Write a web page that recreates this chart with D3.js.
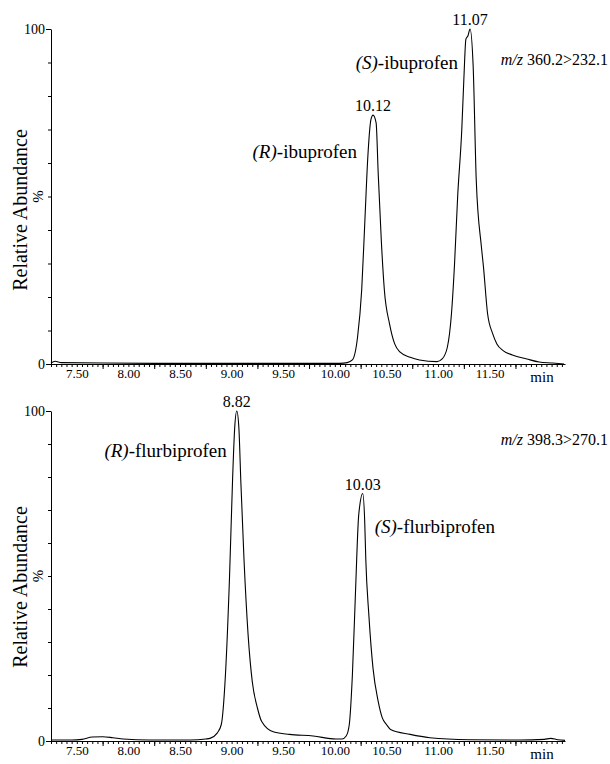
<!DOCTYPE html>
<html>
<head>
<meta charset="utf-8">
<script src="https://cdn.jsdelivr.net/npm/d3@7"></script>
<style>
  body { margin: 0; background: #fff; }
  svg { display: block; }
</style>
</head>
<body>
<div id="chart"></div>
<script>
var serif = "Liberation Serif";

// retention time ticks (labels are drawn half a step left of their tick, as in the original figure)
var majorTicks = [7.5, 8.0, 8.5, 9.0, 9.5, 10.0, 10.5, 11.0, 11.5];
var tickLabels = ["7.50", "8.00", "8.50", "9.00", "9.50", "10.00", "10.50", "11.00", "11.50"];

// ibuprofen trace, m/z 360.2>232.1
var ibuTime = [7.00, 7.04, 7.10, 7.50, 8.00, 8.50, 9.00, 9.50, 9.80, 9.87,
  9.92, 9.97, 10.01, 10.04, 10.07, 10.10, 10.12, 10.15, 10.17, 10.20, 10.23, 10.28, 10.33, 10.38,
  10.48, 10.57, 10.74, 10.79, 10.84, 10.88, 10.91, 10.94, 10.98, 11.00, 11.02, 11.04, 11.06,
  11.09, 11.12, 11.17, 11.19, 11.23, 11.28, 11.32, 11.38, 11.47, 11.61, 11.73, 11.86, 11.97];
var ibuAbund = [0.3, 0.8, 0.4, 0.3, 0.2, 0.2, 0.2, 0.2, 0.2, 0.4,
  1.2, 8, 22, 42, 62, 73, 74.3, 72, 57, 37, 22, 12, 6, 3.6,
  2, 1.2, 0.7, 1.5, 5, 15, 30, 50, 70, 85, 97, 98, 100,
  89, 55, 35, 29, 15, 9, 6, 4, 2.7, 1.5, 0.6, 0.3, 0];

// flurbiprofen trace, m/z 398.3>270.1
var fluTime = [7.00, 7.20, 7.30, 7.40, 7.50, 7.60, 7.70, 7.95, 8.35, 8.50,
  8.54, 8.61, 8.65, 8.69, 8.73, 8.76, 8.78, 8.80, 8.82, 8.84, 8.87, 8.91, 8.95, 9.00, 9.04,
  9.16, 9.31, 9.54, 9.76, 9.82, 9.86, 9.89, 9.92, 9.95, 9.98, 9.99, 10.02, 10.04, 10.05,
  10.08, 10.12, 10.17, 10.21, 10.25, 10.29, 10.48, 10.67, 11.05, 11.54, 11.78, 11.84, 11.91, 11.98];
var fluAbund = [0.3, 0.3, 0.5, 1.2, 1.3, 1.0, 0.6, 0.3, 0.3, 0.6,
  0.8, 2.4, 5, 20, 50, 80, 95, 100, 95, 78, 55, 32, 18, 10, 6,
  2.7, 2, 1.5, 0.6, 0.6, 1.5, 5, 20, 45, 68, 71, 75, 66, 55,
  38, 22, 12, 7, 5, 3.5, 2, 1, 0.4, 0.3, 0.5, 0.8, 0.4, 0.2];

var ibuPeaks = [{t: 10.12, a: 74.3, label: "10.12"}, {t: 11.06, a: 100, label: "11.07"}];
var fluPeaks = [{t: 8.80, a: 100, label: "8.82"}, {t: 10.02, a: 75, label: "10.03"}];

var width = 610, height = 764;
var svg = d3.select("#chart").append("svg")
  .attr("width", width)
  .attr("height", height)
  .attr("font-family", serif);

var x = d3.scaleLinear().domain([7.0, 11.98]).range([51, 565]);
var labelShift = x(7.25) - x(7.5);

var panels = [
  {time: ibuTime, abund: ibuAbund, peaks: ibuPeaks, y0: 364, y100: 29,
   mz: "360.2>232.1", mzY: 65,
   names: [
     {stereo: "(R)", rest: "-ibuprofen", t: 10.12, dx: -16, a: 61.5, anchor: "end"},
     {stereo: "(S)", rest: "-ibuprofen", t: 11.06, dx: -12, a: 88, anchor: "end"}
   ]},
  {time: fluTime, abund: fluAbund, peaks: fluPeaks, y0: 741, y100: 411,
   mz: "398.3>270.1", mzY: 445,
   names: [
     {stereo: "(R)", rest: "-flurbiprofen", t: 8.80, dx: -10, a: 86, anchor: "end"},
     {stereo: "(S)", rest: "-flurbiprofen", t: 10.02, dx: 12, a: 63, anchor: "start"}
   ]}
];

panels.forEach(function(p) {
  var y = d3.scaleLinear().domain([0, 100]).range([p.y0, p.y100]);
  var g = svg.append("g");

  // x axis: minor ticks every 0.05 min
  g.append("g")
    .attr("transform", "translate(0," + p.y0 + ")")
    .call(d3.axisBottom(x).tickValues(d3.range(7.0, 11.98, 0.05)).tickSize(3).tickFormat(""))
    .call(function(a) { a.select(".domain").remove(); });

  var xa = g.append("g")
    .attr("transform", "translate(0," + p.y0 + ")")
    .call(d3.axisBottom(x).tickValues(majorTicks).tickSize(5).tickSizeOuter(0)
      .tickFormat(function(d, i) { return tickLabels[i]; }))
    .attr("font-family", serif);
  xa.selectAll("text")
    .attr("x", labelShift)
    .attr("y", 5)
    .attr("font-family", serif)
    .attr("font-size", 13);

  xa.append("text")
    .attr("x", 542)
    .attr("y", 18)
    .attr("fill", "#000")
    .attr("text-anchor", "middle")
    .attr("font-size", 15)
    .text("min");

  // y axis
  g.append("g")
    .attr("transform", "translate(51,0)")
    .call(d3.axisLeft(y).tickValues(d3.range(10, 100, 10)).tickSize(3).tickFormat(""))
    .call(function(a) { a.select(".domain").remove(); });
  var ya = g.append("g")
    .attr("transform", "translate(51,0)")
    .call(d3.axisLeft(y).tickValues([0, 100]).tickSize(5).tickSizeOuter(0).tickPadding(1))
    .attr("font-family", serif);
  ya.selectAll("text").attr("font-family", serif).attr("font-size", 14);
  g.selectAll(".domain, .tick line").attr("stroke", "#000");

  g.append("text")
    .attr("transform", "translate(38," + y(50) + ") rotate(-90)")
    .attr("text-anchor", "middle")
    .attr("dy", "0.35em")
    .attr("font-family", serif)
    .attr("font-size", 15)
    .text("%");

  g.append("text")
    .attr("transform", "translate(27," + (p.y0 - 154) + ") rotate(-90)")
    .attr("text-anchor", "middle")
    .attr("font-family", serif)
    .attr("font-size", 20)
    .text("Relative Abundance");

  // trace
  var line = d3.line()
    .x(function(d, i) { return x(p.time[i]); })
    .y(function(d) { return y(d); })
    .curve(d3.curveMonotoneX);

  g.append("path")
    .datum(p.abund)
    .attr("fill", "none")
    .attr("stroke", "#000")
    .attr("stroke-width", 1.1)
    .attr("d", line);

  // peak retention time labels
  g.selectAll(".peak").data(p.peaks).enter().append("text")
    .attr("x", function(d) { return x(d.t); })
    .attr("y", function(d) { return y(d.a) - 4; })
    .attr("text-anchor", "middle")
    .attr("font-family", serif)
    .attr("font-size", 16)
    .text(function(d) { return d.label; });

  // compound names
  p.names.forEach(function(n) {
    var t = g.append("text")
      .attr("x", x(n.t) + n.dx)
      .attr("y", y(n.a))
      .attr("text-anchor", n.anchor)
      .attr("font-family", serif)
      .attr("font-size", 19);
    t.append("tspan").attr("font-style", "italic").text(n.stereo);
    t.append("tspan").text(n.rest);
  });

  var mz = g.append("text")
    .attr("x", 608)
    .attr("y", p.mzY)
    .attr("text-anchor", "end")
    .attr("font-family", serif)
    .attr("font-size", 16);
  mz.append("tspan").attr("font-style", "italic").text("m/z");
  mz.append("tspan").text(" " + p.mz);
});
</script>
</body>
</html>
